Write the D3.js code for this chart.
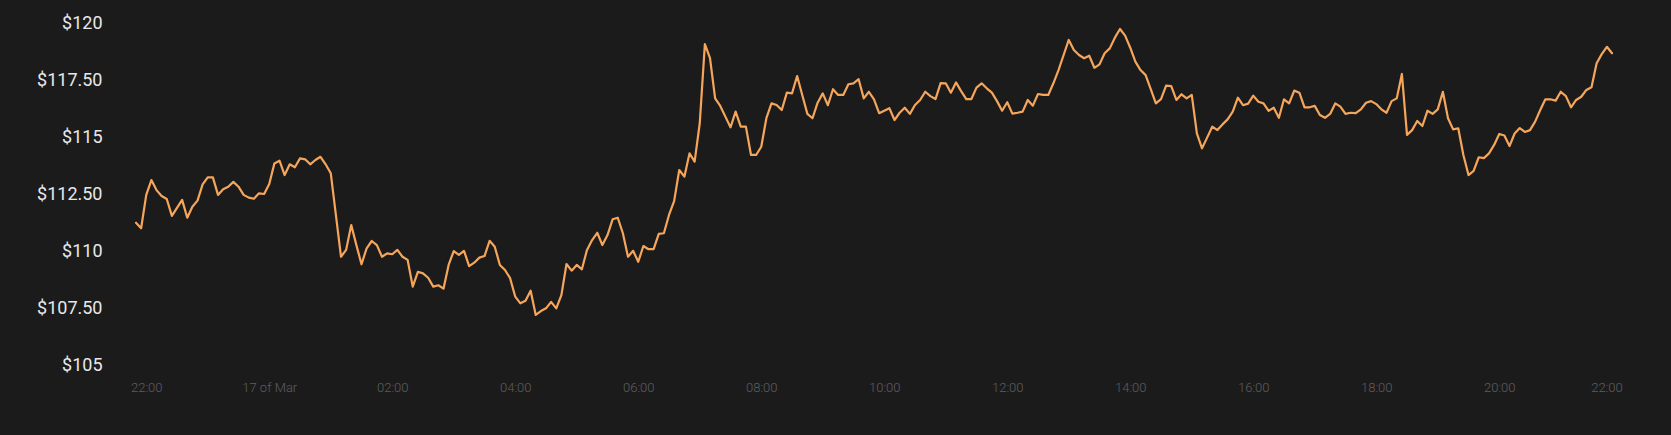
<!DOCTYPE html>
<html>
<head>
<meta charset="utf-8">
<script src="https://cdn.jsdelivr.net/npm/d3@7"></script>
<style>
  html, body { margin: 0; padding: 0; background: #1c1b1c; }
  svg { display: block; }
</style>
</head>
<body>
<svg id="chart" width="1671" height="435"></svg>
<script>
// ---- data ----
const startTime = "2025-03-16T21:50:00";   // first sample, 5-minute interval
const stepMinutes = 5;
const prices = [
  111.19,110.95,112.41,113.06,112.62,112.36,112.23,111.49,111.84,112.19,
  111.41,111.89,112.16,112.87,113.18,113.18,112.41,112.66,112.77,112.98,
  112.77,112.41,112.29,112.24,112.48,112.45,112.89,113.79,113.91,113.28,
  113.75,113.62,114.01,113.97,113.75,113.94,114.08,113.75,113.36,111.53,
  109.70,110.00,111.09,110.21,109.37,110.07,110.39,110.21,109.70,109.85,
  109.81,110.00,109.70,109.56,108.39,109.04,108.97,108.78,108.39,108.45,
  108.30,109.34,109.95,109.78,109.96,109.29,109.44,109.66,109.73,110.40,
  110.14,109.34,109.12,108.76,107.95,107.66,107.77,108.21,107.15,107.32,
  107.44,107.72,107.44,108.02,109.38,109.09,109.34,109.15,110.00,110.43,
  110.75,110.21,110.65,111.34,111.41,110.73,109.70,109.96,109.48,110.17,
  110.03,110.03,110.70,110.73,111.53,112.14,113.50,113.21,114.23,113.87,
  115.55,119.02,118.40,116.64,116.31,115.84,115.37,116.06,115.40,115.40,
  114.16,114.16,114.52,115.77,116.42,116.35,116.13,116.89,116.86,117.62,
  116.79,115.96,115.77,116.45,116.86,116.34,117.04,116.79,116.79,117.26,
  117.30,117.48,116.64,116.93,116.60,115.99,116.10,116.21,115.69,116.01,
  116.23,115.96,116.35,116.57,116.93,116.74,116.61,117.31,117.30,116.89,
  117.34,116.96,116.61,116.61,117.11,117.30,117.08,116.89,116.52,116.10,
  116.47,115.97,116.01,116.06,116.57,116.32,116.83,116.79,116.79,117.30,
  117.88,118.54,119.20,118.76,118.54,118.40,118.51,117.98,118.13,118.62,
  118.83,119.30,119.68,119.39,118.86,118.25,117.88,117.66,117.05,116.42,
  116.61,117.20,117.18,116.57,116.82,116.64,116.79,115.11,114.45,114.92,
  115.40,115.25,115.50,115.72,116.06,116.67,116.34,116.41,116.76,116.49,
  116.42,116.09,116.23,115.79,116.60,116.42,116.98,116.89,116.25,116.25,
  116.31,115.91,115.79,115.96,116.42,116.28,115.96,116.01,115.99,116.16,
  116.45,116.52,116.39,116.16,116.01,116.52,116.64,117.71,115.04,115.25,
  115.65,115.43,116.10,115.96,116.16,116.93,115.77,115.28,115.33,114.16,
  113.28,113.46,114.06,114.02,114.23,114.60,115.08,115.01,114.55,115.10,
  115.34,115.17,115.25,115.62,116.13,116.60,116.60,116.54,116.93,116.74,
  116.25,116.57,116.71,117.01,117.13,118.18,118.58,118.90,118.62
];
const yTicks = [105, 107.5, 110, 112.5, 115, 117.5, 120];
const yTickLabels = ["$105", "$107.50", "$110", "$112.50", "$115", "$117.50", "$120"];
const xTickTimes = [
  "2025-03-16T22:00:00", "2025-03-17T00:00:00", "2025-03-17T02:00:00",
  "2025-03-17T04:00:00", "2025-03-17T06:00:00", "2025-03-17T08:00:00",
  "2025-03-17T10:00:00", "2025-03-17T12:00:00", "2025-03-17T14:00:00",
  "2025-03-17T16:00:00", "2025-03-17T18:00:00", "2025-03-17T20:00:00",
  "2025-03-17T22:00:00"
];
const xTickLabels = ["22:00", "17 of Mar", "02:00", "04:00", "06:00", "08:00",
  "10:00", "12:00", "14:00", "16:00", "18:00", "20:00", "22:00"];

// ---- build ----
const t0 = new Date(startTime);
const data = prices.map((p, i) => ({ t: new Date(t0.getTime() + i * stepMinutes * 60000), v: p }));
const xTickDates = xTickTimes.map(s => new Date(s));

const svg = d3.select("#chart");
svg.append("rect").attr("width", 1671).attr("height", 435).attr("fill", "#1c1b1c");

const x = d3.scaleTime()
  .domain(d3.extent(data, d => d.t))
  .range([136, 1612]);
const y = d3.scaleLinear()
  .domain([105, 120])
  .range([364, 21.7]);

// y axis
const yAxis = d3.axisLeft(y)
  .tickValues(yTicks)
  .tickSize(0)
  .tickPadding(0)
  .tickFormat((d, i) => yTickLabels[i]);
const gy = svg.append("g").attr("transform", "translate(102.5,0)").call(yAxis);
gy.select(".domain").remove();
gy.selectAll("text")
  .attr("x", 0)
  .attr("dy", "0.35em")
  .attr("fill", "#e8e8e8")
  .style("font-family", "Roboto, 'Noto Sans', sans-serif")
  .style("font-size", "18px");

// x axis
const xAxis = d3.axisBottom(x)
  .tickValues(xTickDates)
  .tickSize(0)
  .tickPadding(0)
  .tickFormat((d, i) => xTickLabels[i]);
const gx = svg.append("g").attr("transform", "translate(0,387.3)").call(xAxis);
gx.select(".domain").remove();
gx.selectAll("text")
  .attr("y", 0)
  .attr("dy", "0.35em")
  .attr("fill", "#5e5e5e")
  .style("font-family", "Roboto, 'Noto Sans', sans-serif")
  .style("font-weight", "300")
  .style("font-size", "13px");
gx.selectAll(".tick").filter((d, i, n) => i === n.length - 1)
  .select("text").attr("text-anchor", "end");

// line
const line = d3.line()
  .x(d => x(d.t))
  .y(d => y(d.v));
svg.append("path")
  .datum(data)
  .attr("fill", "none")
  .attr("stroke", "#f5a65b")
  .attr("stroke-width", 2.2)
  .attr("stroke-linejoin", "round")
  .attr("stroke-linecap", "round")
  .attr("d", line);
</script>
</body>
</html>
